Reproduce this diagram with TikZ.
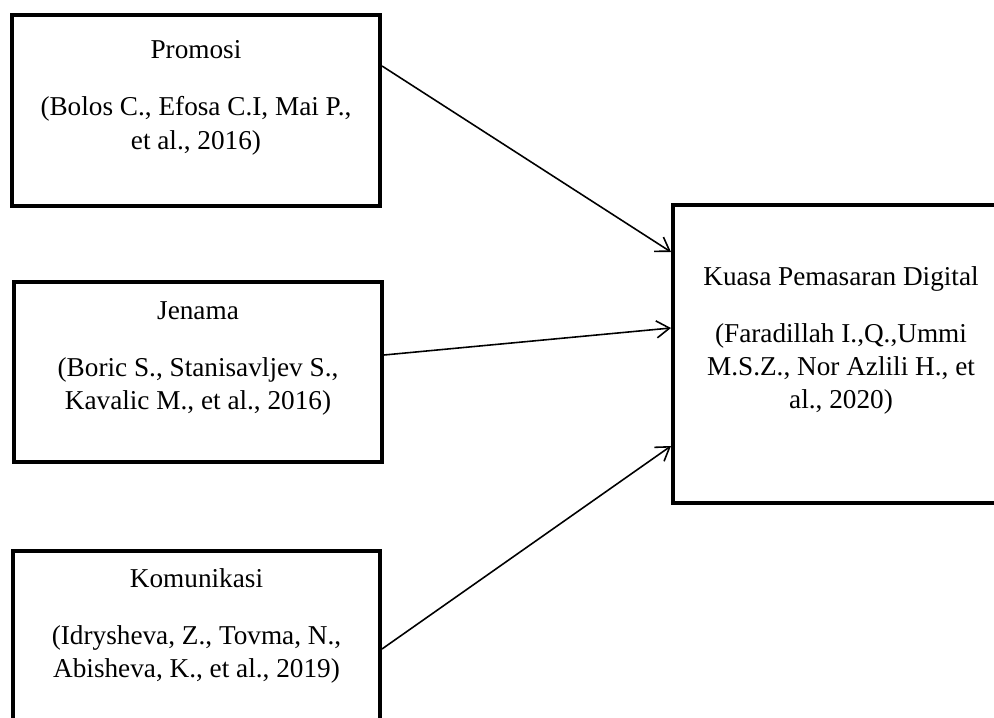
\documentclass[tikz,border=0pt]{standalone}
\usepackage{fontspec}
\setmainfont{Liberation Serif}
\usetikzlibrary{positioning, arrows.meta}

\tikzset{
  box/.style={draw, line width=2.3pt, minimum width=7.36cm, inner sep=0pt},
  txt/.style={align=center, inner sep=0pt, font=\fontsize{15.5}{18.8}\selectfont},
  panah/.style={-{Straight Barb[length=2.6mm, width=3.4mm]}, line width=0.9pt}
}

\begin{document}
\begin{tikzpicture}

\useasboundingbox (0,0) rectangle (19.88,14.34);

% Kotak kiri
\node[box, minimum height=3.82cm] (promosi) at (3.92,12.13) {};
\node[box, minimum height=3.6cm] (jenama) at (3.96,6.9) {};
\node[box, minimum width=7.34cm, minimum height=4cm] (komunikasi) at (3.93,1.32) {};

% Kotak kanan
\node[box, minimum width=6.72cm, minimum height=5.96cm] (kuasa) at (16.82,7.26) {};

% Teks dalam kotak
\node[txt, below=0.54cm of promosi.north] (promosi-txt)
  {Promosi\\[14pt](Bolos C., Efosa C.I, Mai P.,\\et al., 2016)};
\node[txt, below=0.42cm of jenama.north] (jenama-txt)
  {Jenama\\[14pt](Boric S., Stanisavljev S.,\\Kavalic M., et al., 2016)};
\node[txt, below=0.38cm of komunikasi.north] (komunikasi-txt)
  {Komunikasi\\[14pt](Idrysheva, Z., Tovma, N.,\\Abisheva, K., et al., 2019)};
\node[txt, below=1.26cm of kuasa.north] (kuasa-txt)
  {Kuasa Pemasaran Digital\\[14pt](Faradillah I.,Q.,Ummi\\M.S.Z., Nor Azlili H., et\\al., 2020)};

% Anak panah
\draw[panah] ([yshift=0.89cm]promosi.east) -- ([yshift=2.04cm]kuasa.west);
\draw[panah] ([yshift=0.34cm]jenama.east) -- ([yshift=0.52cm]kuasa.west);
\draw[panah] ([yshift=-2.0cm]komunikasi.north east) -- ([yshift=-1.84cm]kuasa.west);

\end{tikzpicture}
\end{document}
